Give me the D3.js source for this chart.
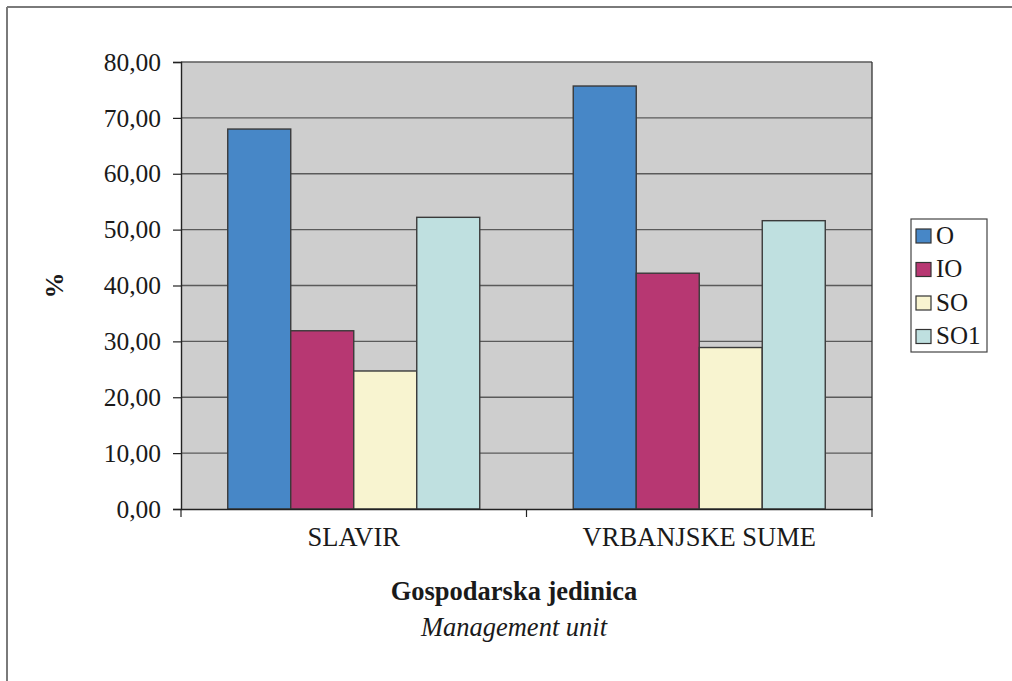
<!DOCTYPE html>
<html>
<head>
<meta charset="utf-8">
<script src="https://cdn.jsdelivr.net/npm/d3@7"></script>
<style>
  html, body { margin: 0; padding: 0; background: #fff; }
  svg { display: block; }
  text { font-family: "Liberation Serif", "Times New Roman", serif; fill: #1a1a1a; }
</style>
</head>
<body>
<svg id="chart" width="1012" height="681"></svg>
<script>
const categories = ["SLAVIR", "VRBANJSKE SUME"];
const seriesNames = ["O", "IO", "SO", "SO1"];
const seriesColors = ["#4787c7", "#b73772", "#f8f4d0", "#bfe0e0"];
const valuesO   = [68.0, 75.7];
const valuesIO  = [31.9, 42.2];
const valuesSO  = [24.7, 28.9];
const valuesSO1 = [52.2, 51.6];
const yTicks = [0, 10, 20, 30, 40, 50, 60, 70, 80];
const yLabel = "%";
const xTitle = "Gospodarska jedinica";
const xSubtitle = "Management unit";

const seriesValues = [valuesO, valuesIO, valuesSO, valuesSO1];
const data = categories.map((c, i) => ({
  cat: c,
  vals: seriesNames.map((s, j) => ({ key: s, value: seriesValues[j][i], color: seriesColors[j] }))
}));

const FONT = "'Liberation Serif', 'Times New Roman', serif";
const svg = d3.select("#chart");

// outer frame (top and left only visible)
svg.append("line").attr("x1", 7).attr("y1", 7).attr("x2", 1012).attr("y2", 7)
  .attr("stroke", "#7a7a7a").attr("stroke-width", 2);
svg.append("line").attr("x1", 7).attr("y1", 7).attr("x2", 7).attr("y2", 681)
  .attr("stroke", "#7a7a7a").attr("stroke-width", 2);

const plot = { left: 181, right: 872, top: 62, bottom: 509 };

const x0 = d3.scaleBand().domain(categories).range([plot.left, plot.right]).padding(0);
const x1 = d3.scaleBand().domain(seriesNames).range([0, x0.bandwidth()]).paddingInner(0).paddingOuter(0.742);
const y = d3.scaleLinear().domain([0, 80]).range([plot.bottom, plot.top]);

// plot background
svg.append("rect").attr("x", plot.left).attr("y", plot.top)
  .attr("width", plot.right - plot.left).attr("height", plot.bottom - plot.top)
  .attr("fill", "#cecece");

// gridlines
svg.append("g").selectAll("line").data(yTicks.filter(t => t > 0)).join("line")
  .attr("x1", plot.left).attr("x2", plot.right)
  .attr("y1", d => y(d)).attr("y2", d => y(d))
  .attr("stroke", "#5a5a5a").attr("stroke-width", 1.3);

// right border of plot
svg.append("line").attr("x1", plot.right).attr("x2", plot.right)
  .attr("y1", plot.top).attr("y2", plot.bottom)
  .attr("stroke", "#333").attr("stroke-width", 1.3);

// bars
const groups = svg.append("g").selectAll("g").data(data).join("g")
  .attr("transform", d => `translate(${x0(d.cat)},0)`);
groups.selectAll("rect").data(d => d.vals).join("rect")
  .attr("x", d => x1(d.key))
  .attr("width", x1.bandwidth())
  .attr("y", d => y(d.value))
  .attr("height", d => y(0) - y(d.value))
  .attr("fill", d => d.color)
  .attr("stroke", "#3a3a3a").attr("stroke-width", 1.4);

// y axis
const yAxis = d3.axisLeft(y).tickValues(yTicks).tickSize(8).tickPadding(12)
  .tickFormat(d => d3.format(".2f")(d).replace(".", ","));
const gy = svg.append("g").attr("transform", `translate(${plot.left},0)`).call(yAxis)
  .attr("font-family", FONT);
gy.select(".domain").attr("stroke", "#222").attr("stroke-width", 1.4);
gy.selectAll(".tick line").attr("stroke", "#222").attr("stroke-width", 1.2);
gy.selectAll(".tick text").attr("font-size", "25.5px").attr("fill", "#1a1a1a")
  .style("font-family", FONT);

// x axis
const xAxis = d3.axisBottom(x0).tickSize(0).tickPadding(0);
const gx = svg.append("g").attr("transform", `translate(0,${plot.bottom})`).call(xAxis)
  .attr("font-family", FONT);
gx.select(".domain").attr("stroke", "#222").attr("stroke-width", 1.4);
gx.selectAll(".tick text").attr("font-size", "26.5px").attr("fill", "#1a1a1a")
  .style("font-family", FONT).attr("dy", null).attr("y", 37);
// category boundary ticks
const boundaries = [plot.left, ...categories.map(c => x0(c) + x0.bandwidth())];
svg.append("g").selectAll("line").data(boundaries).join("line")
  .attr("x1", d => d).attr("x2", d => d)
  .attr("y1", plot.bottom).attr("y2", plot.bottom + 8)
  .attr("stroke", "#222").attr("stroke-width", 1.2);

// y label
svg.append("text").attr("transform", `translate(63,${(plot.top + plot.bottom) / 2}) rotate(-90)`)
  .attr("text-anchor", "middle").attr("font-size", "26px").attr("font-weight", "bold")
  .style("font-family", FONT).text(yLabel);

// x titles
svg.append("text").attr("x", 514).attr("y", 600).attr("text-anchor", "middle")
  .attr("font-size", "26.5px").attr("font-weight", "bold").style("font-family", FONT).text(xTitle);
svg.append("text").attr("x", 514).attr("y", 636).attr("text-anchor", "middle")
  .attr("font-size", "26.5px").attr("font-style", "italic").style("font-family", FONT).text(xSubtitle);

// legend
const legend = svg.append("g");
legend.append("rect").attr("x", 911).attr("y", 219).attr("width", 76).attr("height", 133)
  .attr("fill", "#fff").attr("stroke", "#444").attr("stroke-width", 1.2);
const items = legend.selectAll("g").data(seriesNames).join("g")
  .attr("transform", (d, i) => `translate(916,${229 + i * 33.5})`);
items.append("rect").attr("width", 15).attr("height", 14)
  .attr("fill", (d, i) => seriesColors[i]).attr("stroke", "#333").attr("stroke-width", 1.2);
items.append("text").attr("x", 20).attr("y", 14.5).attr("font-size", "25px")
  .style("font-family", FONT).text(d => d);
</script>
</body>
</html>
